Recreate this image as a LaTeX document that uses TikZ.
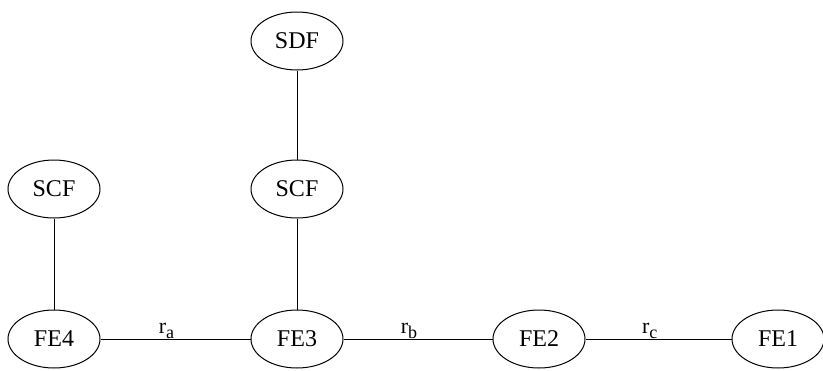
\documentclass[tikz,border=0pt]{standalone}
\usepackage{fontspec}
\setmainfont{Liberation Serif}
\usepackage{tikz}
\usetikzlibrary{shapes.geometric}
\newcommand{\rsub}[1]{r\raisebox{-0.45ex}{\fontsize{18}{18}\selectfont #1}}
\tikzstyle{func} = [draw, ellipse, minimum width=92pt, minimum height=58pt, inner sep=0pt, font=\fontsize{24}{24}\selectfont]
\tikzstyle{rlabel} = [anchor=south, inner sep=0pt, font=\fontsize{22}{22}\selectfont]

\begin{document}
\begin{tikzpicture}[x=1pt, y=-1pt, line width=1pt]
			\useasboundingbox (0,0) rectangle (823,370);
			\node[func] (fe4) at (54, 339) {FE4};
			\node[func] (fe3) at (297, 339) {FE3};
			\node[func] (fe2) at (539, 339) {FE2};
			\node[func] (fe1) at (778, 339) {FE1};
			\node[func] (scfa) at (54, 189) {SCF};
			\node[func] (scfb) at (297, 189) {SCF};
			\node[func] (sdf) at (297, 41) {SDF};
			\draw (fe4) edge node[rlabel, pos=0.44] {\rsub{a}} (fe3);
			\draw (fe3) edge node[rlabel, pos=0.44] {\rsub{b}} (fe2);
			\draw (fe2) edge node[rlabel, pos=0.44] {\rsub{c}} (fe1);
			\draw (scfa) edge (fe4);
			\draw (scfb) edge (fe3);
			\draw (sdf) edge (scfb);
		\end{tikzpicture}
\end{document}
